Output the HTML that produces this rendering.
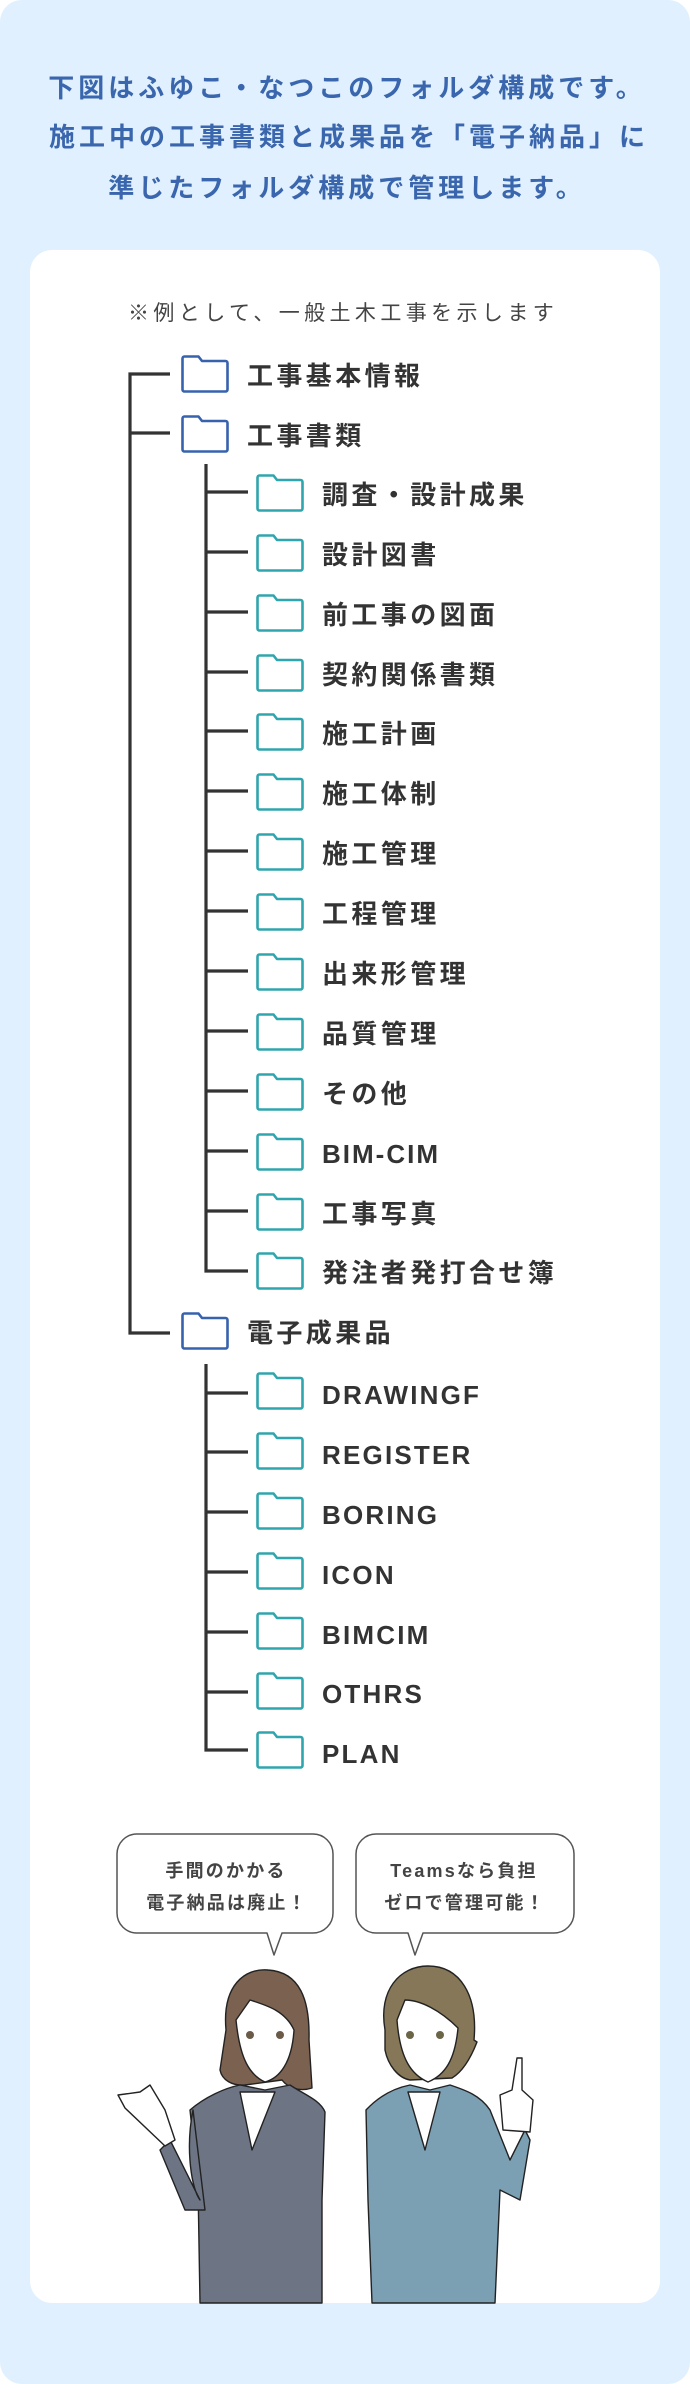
<!DOCTYPE html>
<html><head><meta charset="utf-8"><style>
html,body{margin:0;padding:0;background:#fff;}
svg{display:block;}
.t{font-family:"Liberation Sans","Noto Sans CJK JP",sans-serif;}
</style></head><body>
<svg width="690" height="2384" viewBox="0 0 690 2384" xmlns="http://www.w3.org/2000/svg">
<defs>
<symbol id="fb" viewBox="0 0 48 38"><path d="M3.5,1.5 H17.5 L21,6 H44.5 a2,2 0 0 1 2,2 V34.5 a2,2 0 0 1 -2,2 H3.5 a2,2 0 0 1 -2,-2 V3.5 a2,2 0 0 1 2,-2 Z" fill="none" stroke="#3762ad" stroke-width="2.6" stroke-linejoin="round"/></symbol>
<symbol id="ft" viewBox="0 0 48 38"><path d="M3.5,1.5 H17.5 L21,6 H44.5 a2,2 0 0 1 2,2 V34.5 a2,2 0 0 1 -2,2 H3.5 a2,2 0 0 1 -2,-2 V3.5 a2,2 0 0 1 2,-2 Z" fill="none" stroke="#2fa5ad" stroke-width="2.6" stroke-linejoin="round"/></symbol>
</defs>
<rect x="0" y="0" width="690" height="2384" rx="22" fill="#e0f0fe"/>
<g class="t" font-size="26" font-weight="bold" fill="#3a66ad" text-anchor="middle" letter-spacing="4">
<text x="347" y="97">下図はふゆこ・なつこのフォルダ構成です。</text>
<text x="349" y="146">施工中の工事書類と成果品を「電子納品」に</text>
<text x="347" y="197">準じたフォルダ構成で管理します。</text>
</g>
<rect x="30" y="250" width="630" height="2053" rx="22" fill="#fff"/>
<text class="t" x="128" y="320" font-size="21" fill="#444" letter-spacing="4.4">※例として、一般土木工事を示します</text>
<g stroke="#333" stroke-width="3.2" fill="none">
<path d="M170,374 H130 V1333 H170"/>
<path d="M130,433 H170"/>
<path d="M206,464 V1271 H248"/>
<path d="M206,1364 V1750 H248"/>
</g>
<g stroke="#333" stroke-width="3.2" id="h1">
<line x1="206" y1="492" x2="248" y2="492"/><line x1="206" y1="552" x2="248" y2="552"/><line x1="206" y1="612" x2="248" y2="612"/><line x1="206" y1="672" x2="248" y2="672"/><line x1="206" y1="731" x2="248" y2="731"/><line x1="206" y1="791" x2="248" y2="791"/><line x1="206" y1="851" x2="248" y2="851"/><line x1="206" y1="911" x2="248" y2="911"/><line x1="206" y1="971" x2="248" y2="971"/><line x1="206" y1="1031" x2="248" y2="1031"/><line x1="206" y1="1091" x2="248" y2="1091"/><line x1="206" y1="1151" x2="248" y2="1151"/><line x1="206" y1="1211" x2="248" y2="1211"/>
<line x1="206" y1="1393" x2="248" y2="1393"/><line x1="206" y1="1452" x2="248" y2="1452"/><line x1="206" y1="1512" x2="248" y2="1512"/><line x1="206" y1="1572" x2="248" y2="1572"/><line x1="206" y1="1632" x2="248" y2="1632"/><line x1="206" y1="1692" x2="248" y2="1692"/>
</g>
<use href="#fb" x="181" y="355" width="48" height="38"/>
<use href="#fb" x="181" y="415" width="48" height="38"/>
<use href="#fb" x="181" y="1312" width="48" height="38"/>
<g>
<use href="#ft" x="256" y="474" width="48" height="38"/><use href="#ft" x="256" y="534" width="48" height="38"/><use href="#ft" x="256" y="594" width="48" height="38"/><use href="#ft" x="256" y="654" width="48" height="38"/><use href="#ft" x="256" y="713" width="48" height="38"/><use href="#ft" x="256" y="773" width="48" height="38"/><use href="#ft" x="256" y="833" width="48" height="38"/><use href="#ft" x="256" y="893" width="48" height="38"/><use href="#ft" x="256" y="953" width="48" height="38"/><use href="#ft" x="256" y="1013" width="48" height="38"/><use href="#ft" x="256" y="1073" width="48" height="38"/><use href="#ft" x="256" y="1133" width="48" height="38"/><use href="#ft" x="256" y="1193" width="48" height="38"/><use href="#ft" x="256" y="1252" width="48" height="38"/>
<use href="#ft" x="256" y="1372" width="48" height="38"/><use href="#ft" x="256" y="1432" width="48" height="38"/><use href="#ft" x="256" y="1492" width="48" height="38"/><use href="#ft" x="256" y="1552" width="48" height="38"/><use href="#ft" x="256" y="1612" width="48" height="38"/><use href="#ft" x="256" y="1672" width="48" height="38"/><use href="#ft" x="256" y="1731" width="48" height="38"/>
</g>
<g class="t" font-size="26" font-weight="bold" fill="#333" letter-spacing="3.4">
<text x="247" y="385">工事基本情報</text>
<text x="247" y="445">工事書類</text>
<text x="247" y="1342">電子成果品</text>
<text x="322" y="504">調査・設計成果</text>
<text x="322" y="564">設計図書</text>
<text x="322" y="624">前工事の図面</text>
<text x="322" y="684">契約関係書類</text>
<text x="322" y="743">施工計画</text>
<text x="322" y="803">施工体制</text>
<text x="322" y="863">施工管理</text>
<text x="322" y="923">工程管理</text>
<text x="322" y="983">出来形管理</text>
<text x="322" y="1043">品質管理</text>
<text x="322" y="1103">その他</text>
<text x="322" y="1163" letter-spacing="2">BIM-CIM</text>
<text x="322" y="1223">工事写真</text>
<text x="322" y="1282">発注者発打合せ簿</text>
<g letter-spacing="2.2">
<text x="322" y="1404">DRAWINGF</text>
<text x="322" y="1464">REGISTER</text>
<text x="322" y="1524">BORING</text>
<text x="322" y="1584">ICON</text>
<text x="322" y="1644">BIMCIM</text>
<text x="322" y="1703">OTHRS</text>
<text x="322" y="1763">PLAN</text>
</g>
</g>
<!-- bubbles -->
<g fill="#fff" stroke="#555" stroke-width="1.5" stroke-linejoin="round">
<path d="M137,1834 H313 a20,20 0 0 1 20,20 V1913 a20,20 0 0 1 -20,20 H282 L274,1955 L267,1933 H137 a20,20 0 0 1 -20,-20 V1854 a20,20 0 0 1 20,-20 Z"/>
<path d="M376,1834 H554 a20,20 0 0 1 20,20 V1913 a20,20 0 0 1 -20,20 H423 L415,1955 L408,1933 H376 a20,20 0 0 1 -20,-20 V1854 a20,20 0 0 1 20,-20 Z"/>
</g>
<g class="t" font-size="18" font-weight="bold" fill="#444" text-anchor="middle" letter-spacing="2.2">
<text x="226" y="1877">手間のかかる</text>
<text x="227" y="1909">電子納品は廃止！</text>
<text x="464" y="1877">Teamsなら負担</text>
<text x="465" y="1909">ゼロで管理可能！</text>
</g>
<!-- left woman -->
<g stroke="#222" stroke-width="1.4" stroke-linejoin="round">
<path d="M226,2030 C222,1985 245,1968 268,1970 C300,1972 310,2000 309,2040 L312,2088 C300,2092 288,2088 282,2080 L245,2085 C232,2086 222,2080 220,2070 Z" fill="#7b6150"/>
<path d="M236,2020 C240,2060 250,2075 265,2082 C280,2078 292,2062 294,2030 C285,2010 265,2005 250,2000 Z" fill="#fff"/>
<path d="M200,2303 L198,2185 L190,2110 C205,2097 225,2088 240,2085 L265,2090 L290,2085 C305,2095 320,2100 325,2112 L322,2200 L322,2303 Z" fill="#6d7584"/>
<path d="M240,2092 L252,2150 L275,2092 Z" fill="#fff"/>
<path d="M193,2110 C185,2150 192,2190 200,2200 L170,2140 L160,2150 L185,2210 L205,2210 Z" fill="#6d7584"/>
<path d="M165,2146 L125,2108 L118,2095 L140,2092 L150,2085 L165,2110 L175,2140 Z" fill="#fff"/>
</g>
<circle cx="250" cy="2035" r="4" fill="#6b5a48"/><circle cx="280" cy="2035" r="4" fill="#6b5a48"/>
<!-- right woman -->
<g stroke="#222" stroke-width="1.4" stroke-linejoin="round">
<path d="M385,2030 C378,1990 400,1966 428,1966 C460,1966 478,1995 474,2040 L477,2042 C470,2060 462,2072 452,2078 L410,2080 C398,2078 388,2065 385,2050 Z" fill="#857757"/>
<path d="M397,2020 C400,2060 412,2075 428,2082 C445,2075 455,2060 458,2028 C440,2010 420,2000 405,2000 Z" fill="#fff"/>
<path d="M372,2303 L368,2200 L366,2110 C380,2095 395,2088 410,2085 L430,2090 L450,2085 C465,2090 480,2095 490,2110 L510,2160 L525,2130 L530,2140 L520,2200 L500,2190 L495,2303 Z" fill="#7b9fb3"/>
<path d="M408,2092 L425,2150 L440,2092 Z" fill="#fff"/>
<path d="M503,2130 L500,2095 L512,2090 L517,2058 L522,2058 L522,2090 L533,2100 L530,2132 Z" fill="#fff"/>
</g>
<circle cx="410" cy="2035" r="4" fill="#6b6548"/><circle cx="440" cy="2035" r="4" fill="#6b6548"/>
</svg>
</body></html>
